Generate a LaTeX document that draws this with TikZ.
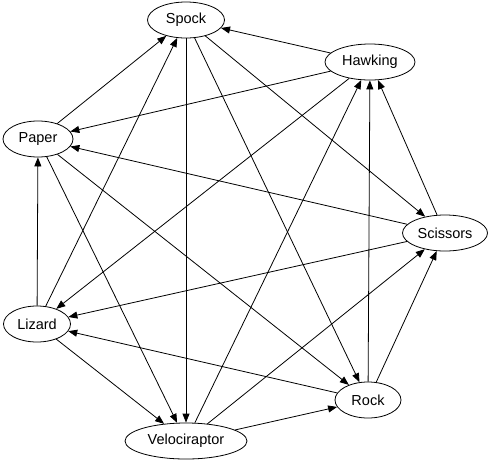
\documentclass[tikz,border=0pt]{standalone}
\usepackage{fontspec}
\setmainfont{Liberation Sans}
\usetikzlibrary{shapes.geometric,arrows.meta}
\begin{document}
\begin{tikzpicture}[x=1pt,y=-1pt,
  nd/.style={draw,ellipse,line width=0.8pt,inner sep=0pt,minimum height=36pt,font=\fontsize{14.5}{16}\selectfont},
  ed/.style={draw,line width=0.8pt,-{Triangle[length=9pt,width=7pt]}}]
\useasboundingbox (0,0) rectangle (500,464);
\node[nd,minimum width=77pt] (spock) at (186,20) {Spock};
\node[nd,minimum width=90pt] (hawking) at (370,62) {Hawking};
\node[nd,minimum width=70pt] (paper) at (38,139) {Paper};
\node[nd,minimum width=85pt] (scissors) at (445,233) {Scissors};
\node[nd,minimum width=67pt] (lizard) at (37,324) {Lizard};
\node[nd,minimum width=66pt] (rock) at (368,400) {Rock};
\node[nd,minimum width=122pt] (velo) at (186,441) {Velociraptor};
\draw[ed] (hawking) -- (spock);
\draw[ed] (hawking) -- (paper);
\draw[ed] (hawking) -- (lizard);
\draw[ed] (paper) -- (spock);
\draw[ed] (spock) -- (velo);
\draw[ed] (spock) -- (rock);
\draw[ed] (spock) -- (scissors);
\draw[ed] (lizard) -- (spock);
\draw[ed] (lizard) -- (paper);
\draw[ed] (scissors) -- (paper);
\draw[ed] (scissors) -- (lizard);
\draw[ed] (scissors) -- (hawking);
\draw[ed] (rock) -- (hawking);
\draw[ed] (rock) -- (scissors);
\draw[ed] (rock) -- (lizard);
\draw[ed] (paper) -- (rock);
\draw[ed] (paper) -- (velo);
\draw[ed] (lizard) -- (velo);
\draw[ed] (velo) -- (hawking);
\draw[ed] (velo) -- (scissors);
\draw[ed] (velo) -- (rock);
\end{tikzpicture}
\end{document}
